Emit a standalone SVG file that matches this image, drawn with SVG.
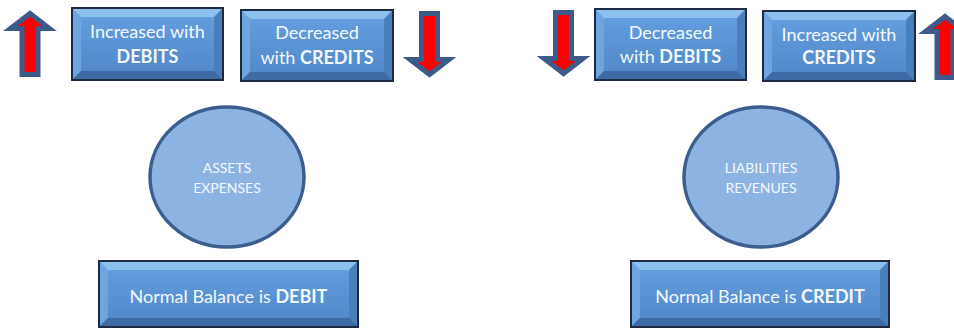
<svg xmlns="http://www.w3.org/2000/svg" width="954" height="328" viewBox="0 0 954 328">
<style>
.face{fill:url(#faceGrad)}
.bt{fill:#8cc0ef}
.bl{fill:#6ea5e0}
.br{fill:#4a7fbe}
.bb{fill:#3e6ba5}
.edge{fill:none;stroke:#1d2a42;stroke-width:2}
.lbl{font-family:Lato,"Open Sans","Liberation Sans",sans-serif;fill:#f4f8fd;text-anchor:middle;font-size:18px}
.big{font-size:18px}
.b{font-weight:bold}
.circ{fill:#8db3e2;stroke:#3c5e8f;stroke-width:3.5}
.ctxt{font-family:Lato,"Open Sans","Liberation Sans",sans-serif;fill:#f4f8fd;text-anchor:middle;font-size:14px;font-weight:400}
.arrow{fill:#ff0000;stroke:#3d5b8a;stroke-width:5;stroke-linejoin:miter}
</style>
<defs>
<linearGradient id="faceGrad" x1="0" y1="0" x2="0" y2="1">
<stop offset="0" stop-color="#66a0e0"/>
<stop offset="1" stop-color="#4f86c7"/>
</linearGradient>
<polygon id="upArrow" points="0,3.5 19.5,18.5 8,18.5 8,64.5 -8,64.5 -8,18.5 -19.5,18.5"/>
</defs>
<rect width="954" height="328" fill="#ffffff"/>

<g id="connectors">
<use href="#upArrow" class="arrow" transform="translate(30,10)"/>
<use href="#upArrow" class="arrow" transform="translate(429.5,78) rotate(180)"/>
<use href="#upArrow" class="arrow" transform="translate(563.5,77) rotate(180)"/>
<use href="#upArrow" class="arrow" transform="translate(945,13)"/>
</g>

<g id="box-inc-debits">
<rect class="face" x="72" y="8" width="151" height="72"/>
<polygon class="bt" points="72,8 223,8 214,17 81,17"/>
<polygon class="bl" points="72,8 81,17 81,71 72,80"/>
<polygon class="br" points="223,8 223,80 214,71 214,17"/>
<polygon class="bb" points="72,80 223,80 214,71 81,71"/>
<rect class="edge" x="72" y="8" width="151" height="72"/>
<text class="lbl" x="147.5" y="38">Increased with</text>
<text class="lbl b" x="147.5" y="63">DEBITS</text>
</g>

<g id="box-dec-credits">
<rect class="face" x="241" y="10" width="152" height="71"/>
<polygon class="bt" points="241,10 393,10 384,19 250,19"/>
<polygon class="bl" points="241,10 250,19 250,72 241,81"/>
<polygon class="br" points="393,10 393,81 384,72 384,19"/>
<polygon class="bb" points="241,81 393,81 384,72 250,72"/>
<rect class="edge" x="241" y="10" width="152" height="71"/>
<text class="lbl" x="317" y="39">Decreased</text>
<text class="lbl" x="317" y="64">with <tspan class="b">CREDITS</tspan></text>
</g>

<g id="box-dec-debits">
<rect class="face" x="595" y="9" width="151" height="71"/>
<polygon class="bt" points="595,9 746,9 737,18 604,18"/>
<polygon class="bl" points="595,9 604,18 604,71 595,80"/>
<polygon class="br" points="746,9 746,80 737,71 737,18"/>
<polygon class="bb" points="595,80 746,80 737,71 604,71"/>
<rect class="edge" x="595" y="9" width="151" height="71"/>
<text class="lbl" x="670.5" y="39">Decreased</text>
<text class="lbl" x="670.5" y="63">with <tspan class="b">DEBITS</tspan></text>
</g>

<g id="box-inc-credits">
<rect class="face" x="763" y="11" width="152" height="70"/>
<polygon class="bt" points="763,11 915,11 906,20 772,20"/>
<polygon class="bl" points="763,11 772,20 772,72 763,81"/>
<polygon class="br" points="915,11 915,81 906,72 906,20"/>
<polygon class="bb" points="763,81 915,81 906,72 772,72"/>
<rect class="edge" x="763" y="11" width="152" height="70"/>
<text class="lbl" x="839" y="41">Increased with</text>
<text class="lbl b" x="839" y="64">CREDITS</text>
</g>

<g id="circle-assets">
<ellipse class="circ" cx="227" cy="177" rx="77" ry="70"/>
<text class="ctxt" x="227" y="173">ASSETS</text>
<text class="ctxt" x="227" y="193">EXPENSES</text>
</g>

<g id="circle-liabilities">
<ellipse class="circ" cx="761" cy="177" rx="77" ry="70"/>
<text class="ctxt" x="761" y="173">LIABILITIES</text>
<text class="ctxt" x="761" y="193">REVENUES</text>
</g>

<g id="box-normal-debit">
<rect class="face" x="99" y="261" width="259" height="66"/>
<polygon class="bt" points="99,261 358,261 349,270 108,270"/>
<polygon class="bl" points="99,261 108,270 108,318 99,327"/>
<polygon class="br" points="358,261 358,327 349,318 349,270"/>
<polygon class="bb" points="99,327 358,327 349,318 108,318"/>
<rect class="edge" x="99" y="261" width="259" height="66"/>
<text class="lbl big" x="228.5" y="303">Normal Balance is <tspan class="b">DEBIT</tspan></text>
</g>

<g id="box-normal-credit">
<rect class="face" x="631" y="261" width="258" height="66"/>
<polygon class="bt" points="631,261 889,261 880,270 640,270"/>
<polygon class="bl" points="631,261 640,270 640,318 631,327"/>
<polygon class="br" points="889,261 889,327 880,318 880,270"/>
<polygon class="bb" points="631,327 889,327 880,318 640,318"/>
<rect class="edge" x="631" y="261" width="258" height="66"/>
<text class="lbl big" x="760" y="303">Normal Balance is <tspan class="b">CREDIT</tspan></text>
</g>
</svg>
